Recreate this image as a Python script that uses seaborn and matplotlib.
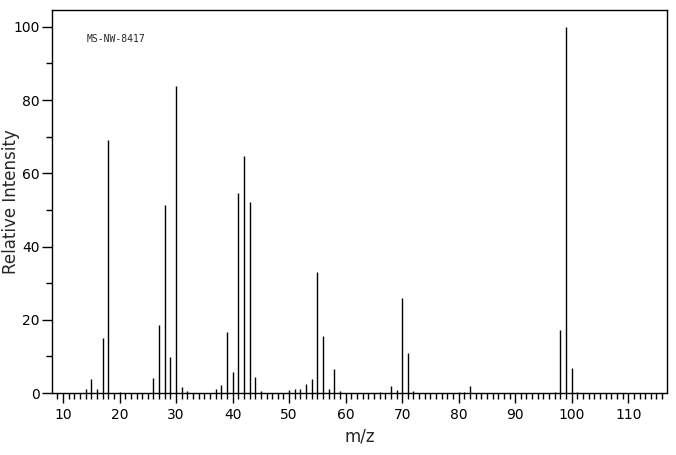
import numpy as np
import pandas as pd
import matplotlib
matplotlib.use("Agg")
import matplotlib.pyplot as plt
import seaborn as sns
from matplotlib.ticker import MultipleLocator

# peaks
mz = [14, 15, 16, 17, 18, 20, 26, 27, 28, 29, 30, 31, 32,
      37, 38, 39, 40, 41, 42, 43, 44, 45,
      50, 51, 52, 53, 54, 55, 56, 57, 58, 59,
      66, 68, 69, 70, 71, 72, 80, 81, 82,
      97, 98, 99, 100, 101]
intensity = [1.1, 3.8, 1.2, 15.0, 69.1, 0.3, 4.2, 18.6, 51.4, 9.9, 83.9, 1.6, 0.5,
             1.0, 2.2, 16.7, 5.7, 54.6, 64.8, 52.2, 4.4, 0.5,
             0.8, 1.1, 1.1, 2.6, 3.8, 33.1, 15.6, 1.1, 6.6, 0.5,
             0.3, 2.0, 0.8, 26.0, 11.0, 0.5, 0.3, 0.4, 2.0,
             0.4, 17.2, 100.0, 6.8, 0.3]
label = "MS-NW-8417"

df = pd.DataFrame({"mz": mz, "intensity": intensity})

sns.set_style("ticks")
plt.rcParams["font.family"] = ["DejaVu Sans"]

fig = plt.figure(figsize=(6.76, 4.55), dpi=100)
ax = fig.add_axes([0.077, 0.136, 0.910, 0.842])

ax.vlines(df["mz"], 0, df["intensity"], color="black", linewidth=1.0)

ax.set_xlim(8.05, 116.9)
ax.set_ylim(0, 104.6)
ax.xaxis.set_major_locator(MultipleLocator(10))
ax.xaxis.set_minor_locator(MultipleLocator(1))
ax.yaxis.set_major_locator(MultipleLocator(20))
ax.yaxis.set_minor_locator(MultipleLocator(10))
ax.tick_params(axis="both", which="major", length=7, width=1, color="black",
               labelsize=10, labelcolor="black")
ax.tick_params(axis="both", which="minor", length=4, width=1, color="black")
ax.tick_params(axis="x", pad=4)
ax.tick_params(axis="y", pad=2)

for s in ax.spines.values():
    s.set_color("black")
    s.set_linewidth(1)

ax.set_xlabel("m/z", fontsize=12)
ax.set_ylabel("Relative Intensity", fontsize=12)
ax.yaxis.set_label_coords(-0.052, 0.5)
ax.text(0.057, 0.925, label, transform=ax.transAxes, fontsize=7,
        va="center", ha="left", family="DejaVu Sans Mono")

fig.savefig("out.png", dpi=100, facecolor="white")
